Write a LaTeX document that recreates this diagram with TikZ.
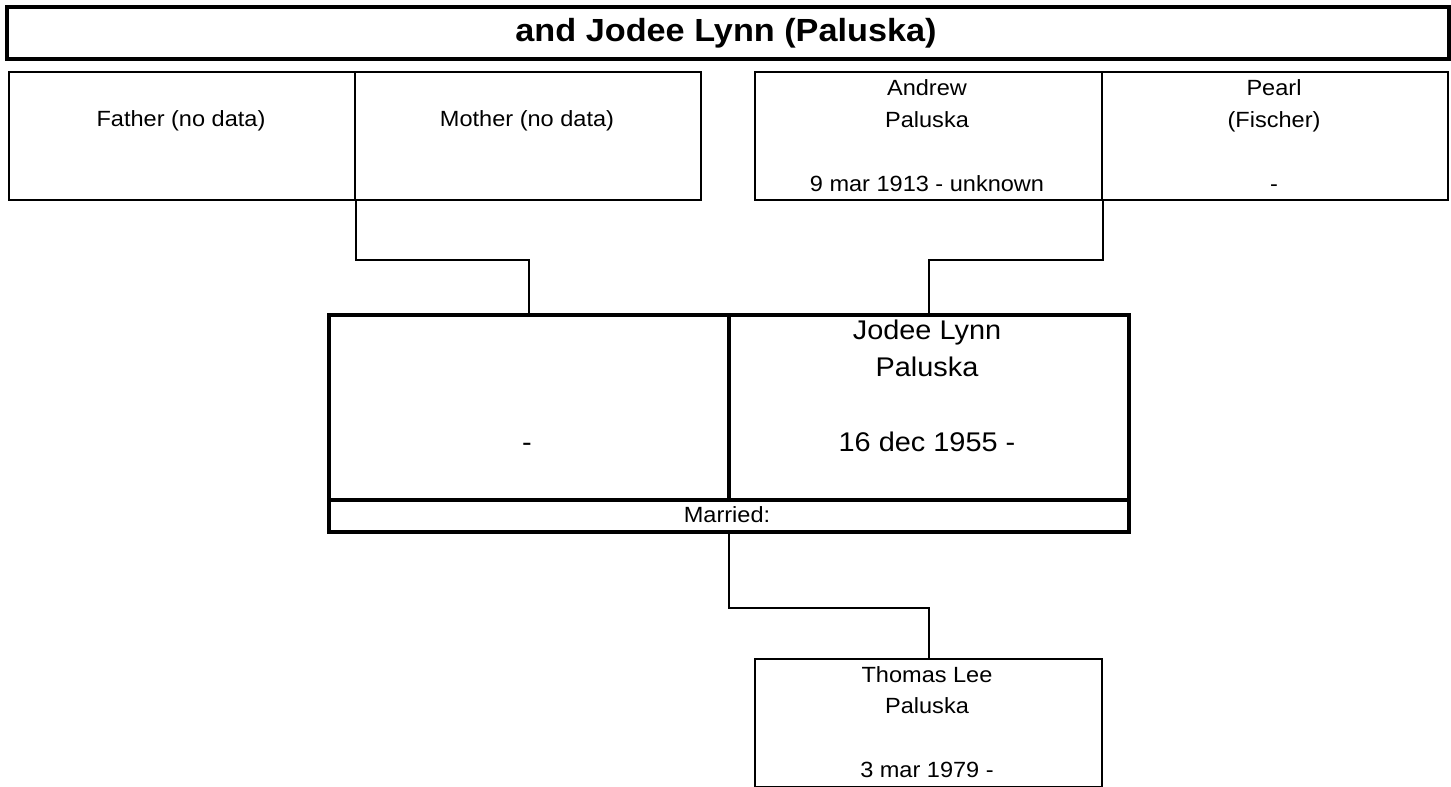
\documentclass[tikz,border=0pt]{standalone}
\usepackage{fontspec}
\setmainfont{Liberation Sans}[FakeStretch=1.07]
\begin{document}
\begin{tikzpicture}[x=1pt,y=-1pt,
  thinbox/.style={draw, line width=2pt, inner sep=0pt, anchor=north west},
  thickbox/.style={draw, line width=3.5pt, inner sep=0pt, anchor=north west},
  conn/.style={draw, line width=2pt},
  small/.style={inner sep=0pt, anchor=base, font=\fontsize{22}{26}\selectfont},
  big/.style={inner sep=0pt, anchor=base, font=\fontsize{27}{32}\selectfont},
  ttl/.style={inner sep=0pt, anchor=base, font=\fontsize{32}{38}\selectfont\bfseries}]
\useasboundingbox[fill=white] (0,0) rectangle (1451,787);
% title
\node[thickbox, minimum width=1442pt, minimum height=52pt] (title) at (5,5) {};
\node[ttl] (titleT) at (726,41) {and Jodee Lynn (Paluska)};
% grandparents
\node[thinbox, minimum width=346pt, minimum height=128pt] (father) at (8,71) {};
\node[thinbox, minimum width=346pt, minimum height=128pt] (mother) at (354,71) {};
\node[thinbox, minimum width=347pt, minimum height=128pt] (andrew) at (754,71) {};
\node[thinbox, minimum width=346pt, minimum height=128pt] (pearl) at (1101,71) {};
\node[small] (fatherT) at (181,126) {Father (no data)};
\node[small] (motherT) at (527,126) {Mother (no data)};
\node[small] (andrewA) at (927,95) {Andrew};
\node[small] (andrewB) at (927,127) {Paluska};
\node[small] (andrewC) at (927,191) {9 mar 1913 - unknown};
\node[small] (pearlA) at (1274,95) {Pearl};
\node[small] (pearlB) at (1274,127) {(Fischer)};
\node[small] (pearlC) at (1274,191) {-};
% couple
\node[thickbox, minimum width=400pt, minimum height=185pt] (spouseL) at (327,313) {};
\node[thickbox, minimum width=400pt, minimum height=185pt] (spouseR) at (727,313) {};
\node[thickbox, minimum width=800pt, minimum height=32pt] (married) at (327,498) {};
\node[big] (spouseLC) at (527,451) {-};
\node[big] (spouseRA) at (927,339) {Jodee Lynn};
\node[big] (spouseRB) at (927,376) {Paluska};
\node[big] (spouseRC) at (927,451) {16 dec 1955 -};
\node[small] (marriedT) at (727,522) {Married:};
% child
\node[thinbox, minimum width=347pt, minimum height=128pt] (thomas) at (754,658) {};
\node[small] (thomasA) at (927,682) {Thomas Lee};
\node[small] (thomasB) at (927,713) {Paluska};
\node[small] (thomasC) at (927,777) {3 mar 1979 -};
% connectors
\draw[conn] (father.south east) -- ++(0,59) -| (spouseL.north);
\draw[conn] (andrew.south east) -- ++(0,59) -| (spouseR.north);
\draw[conn] (married.south) -- ++(0,74) -| (thomas.north);
\end{tikzpicture}
\end{document}
